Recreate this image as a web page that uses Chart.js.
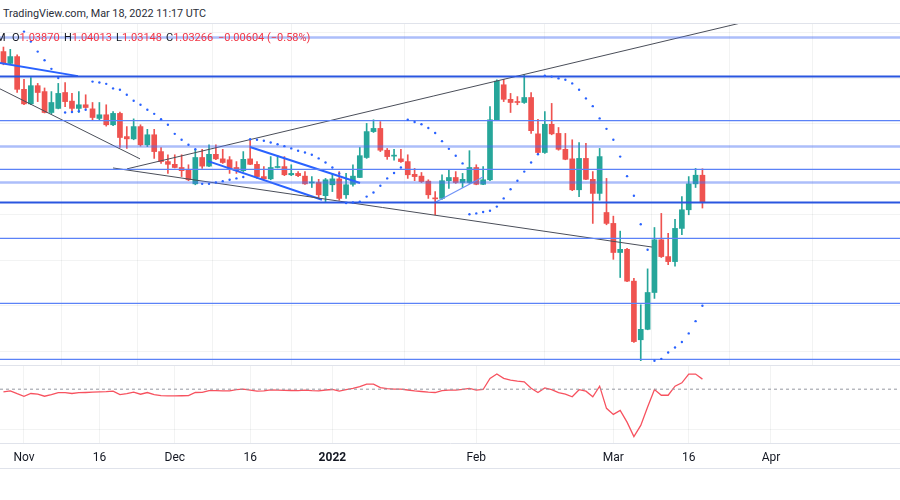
<!DOCTYPE html>
<html>
<head>
<meta charset="utf-8">
<script src="https://cdn.jsdelivr.net/npm/chart.js@4.4.1/dist/chart.umd.min.js"></script>
<style>
  body { margin: 0; background: #fff; width: 900px; height: 500px; overflow: hidden; position: relative; font-family: Roboto, "Noto Sans", sans-serif; }
  #stamp { position: absolute; left: 3px; top: 6px; font-size: 10.8px; line-height: 16px; color: #2a2e39; }
  #topline { position: absolute; left: 0; top: 23px; width: 900px; height: 1px; background: #e0e3eb; }
  #legend span { position: absolute; top: 31px; font-size: 11px; line-height: 14px; color: #131722; white-space: nowrap; z-index: 2; }
  #legend .v { color: #f23645; }
  #main { position: absolute; left: 0; top: 24px; }
  #sep { position: absolute; left: 0; top: 365px; width: 900px; height: 1px; background: #e0e3eb; z-index: 2; }
  #osc { position: absolute; left: 0; top: 365px; }
  #bottomline { position: absolute; left: 0; top: 468px; width: 900px; height: 1px; background: #e0e3eb; }
</style>
</head>
<body>
<div id="stamp">TradingView.com, Mar 18, 2022 11:17 UTC</div>
<div id="topline"></div>
<div id="legend">
  <span style="left:-4px">M</span>
  <span style="left:12px">O<span class="v" style="position:static">1.03870</span></span>
  <span style="left:64px">H<span class="v" style="position:static">1.04013</span></span>
  <span style="left:116px">L<span class="v" style="position:static">1.03148</span></span>
  <span style="left:166px">C<span class="v" style="position:static">1.03266</span></span>
  <span class="v" style="left:218px">−0.00604 (−0.58%)</span>
</div>
<canvas id="main" width="900" height="341"></canvas>
<div id="sep"></div>
<canvas id="osc" width="900" height="107"></canvas>
<div id="bottomline"></div>
<script>
// EURCHF daily, one entry per session starting Oct 27 2021 (index -3, Nov 1 = 0)
var firstDay = -3;

var opens = [1.0659, 1.0633, 1.0648,
  1.0576, 1.0544, 1.0584, 1.0571, 1.0525, 1.0534, 1.0569, 1.0550, 1.0534, 1.0542,
  1.0533, 1.0512, 1.0520, 1.0498, 1.0523, 1.0472, 1.0467, 1.0494, 1.0454, 1.0476,
  1.0439, 1.0417, 1.0411, 1.0404, 1.0399, 1.0368, 1.0426, 1.0407, 1.0433, 1.0423,
  1.0421, 1.0404, 1.0397, 1.0423, 1.0411, 1.0384, 1.0379, 1.0404, 1.0406, 1.0388,
  1.0391, 1.0385, 1.0370, 1.0371, 1.0342, 1.0366, 1.0379, 1.0344, 1.0367, 1.0382,
  1.0426, 1.0483, 1.0490, 1.0442, 1.0429, 1.0423, 1.0417, 1.0389, 1.0385, 1.0374,
  1.0337, 1.0336, 1.0375, 1.0382, 1.0371, 1.0371, 1.0404, 1.0367, 1.0377, 1.0509,
  1.0586, 1.0554, 1.0548, 1.0547, 1.0558, 1.0478, 1.0437, 1.0499, 1.0479, 1.0444,
  1.0423, 1.0355, 1.0424, 1.0378, 1.0347, 1.0305, 1.0281, 1.0217, 1.0224, 1.0154,
  1.0025, 1.0048, 1.0129, 1.0245, 1.0208, 1.0197, 1.0270, 1.0311, 1.0368, 1.03870];

var highs = [1.0669, 1.0664, 1.0652,
  1.0598, 1.0602, 1.0589, 1.0579, 1.0571, 1.0589, 1.0591, 1.0567, 1.0571, 1.0564,
  1.0547, 1.0547, 1.0542, 1.0527, 1.0526, 1.0494, 1.0511, 1.0498, 1.0488, 1.0488,
  1.0448, 1.0432, 1.0432, 1.0432, 1.0410, 1.0444, 1.0444, 1.0454, 1.0454, 1.0444,
  1.0428, 1.0417, 1.0439, 1.0466, 1.0417, 1.0406, 1.0428, 1.0430, 1.0428, 1.0410,
  1.0395, 1.0395, 1.0384, 1.0378, 1.0380, 1.0391, 1.0395, 1.0391, 1.0410, 1.0448,
  1.0501, 1.0509, 1.0505, 1.0446, 1.0444, 1.0444, 1.0432, 1.0402, 1.0393, 1.0377,
  1.0351, 1.0388, 1.0399, 1.0395, 1.0391, 1.0441, 1.0410, 1.0406, 1.0538, 1.0597,
  1.0598, 1.0567, 1.0560, 1.0608, 1.0569, 1.0510, 1.0527, 1.0545, 1.0492, 1.0479,
  1.0465, 1.0459, 1.0457, 1.0395, 1.0446, 1.0380, 1.0297, 1.0264, 1.0226, 1.0160,
  1.0102, 1.0181, 1.0272, 1.0303, 1.0259, 1.0290, 1.0340, 1.0384, 1.0402, 1.04013];

var lows = [1.0630, 1.0630, 1.0569,
  1.0542, 1.0542, 1.0549, 1.0524, 1.0522, 1.0533, 1.0538, 1.0529, 1.0525, 1.0534,
  1.0509, 1.0509, 1.0495, 1.0496, 1.0448, 1.0446, 1.0465, 1.0451, 1.0450, 1.0424,
  1.0413, 1.0391, 1.0403, 1.0384, 1.0375, 1.0366, 1.0402, 1.0406, 1.0421, 1.0413,
  1.0391, 1.0391, 1.0395, 1.0410, 1.0380, 1.0378, 1.0377, 1.0403, 1.0386, 1.0386,
  1.0384, 1.0367, 1.0360, 1.0338, 1.0329, 1.0351, 1.0332, 1.0336, 1.0363, 1.0382,
  1.0424, 1.0481, 1.0439, 1.0422, 1.0420, 1.0415, 1.0380, 1.0375, 1.0371, 1.0336,
  1.0300, 1.0334, 1.0358, 1.0369, 1.0360, 1.0369, 1.0366, 1.0366, 1.0375, 1.0507,
  1.0549, 1.0525, 1.0542, 1.0545, 1.0479, 1.0434, 1.0435, 1.0476, 1.0442, 1.0421,
  1.0353, 1.0340, 1.0377, 1.0281, 1.0332, 1.0278, 1.0202, 1.0162, 1.0153, 1.0019,
  0.9979, 1.0047, 1.0116, 1.0206, 1.0190, 1.0187, 1.0256, 1.0300, 1.0360, 1.03148];

var closes = [1.0633, 1.0648, 1.0576,
  1.0544, 1.0584, 1.0569, 1.0525, 1.0547, 1.0567, 1.0549, 1.0534, 1.0542, 1.0536,
  1.0514, 1.0520, 1.0498, 1.0523, 1.0470, 1.0467, 1.0494, 1.0454, 1.0476, 1.0439,
  1.0417, 1.0411, 1.0404, 1.0397, 1.0377, 1.0426, 1.0407, 1.0433, 1.0423, 1.0415,
  1.0402, 1.0397, 1.0422, 1.0411, 1.0384, 1.0379, 1.0404, 1.0406, 1.0388, 1.0391,
  1.0386, 1.0368, 1.0371, 1.0344, 1.0377, 1.0379, 1.0336, 1.0366, 1.0385, 1.0430,
  1.0483, 1.0490, 1.0442, 1.0428, 1.0430, 1.0417, 1.0388, 1.0384, 1.0373, 1.0344,
  1.0335, 1.0375, 1.0382, 1.0371, 1.0378, 1.0404, 1.0367, 1.0377, 1.0509, 1.0594,
  1.0554, 1.0547, 1.0547, 1.0558, 1.0485, 1.0437, 1.0499, 1.0478, 1.0444, 1.0422,
  1.0355, 1.0424, 1.0378, 1.0347, 1.0428, 1.0281, 1.0217, 1.0224, 1.0154, 1.0021,
  1.0048, 1.0129, 1.0245, 1.0208, 1.0197, 1.0270, 1.0311, 1.0368, 1.0387, 1.03266];

// parabolic SAR, same sessions
var sar = [null, null, null,
  1.0703, 1.0681, 1.0659, 1.0640, 1.0621, 1.0601, 1.0525, 1.0526, 1.0528, 1.0531,
  1.0593, 1.0591, 1.0588, 1.0578, 1.0575, 1.0564, 1.0551, 1.0542, 1.0531, 1.0522,
  1.0510, 1.0498, 1.0478, 1.0465, 1.0454, 1.0444, 1.0368, 1.0368, 1.0371, 1.0374,
  1.0377, 1.0380, 1.0383, 1.0466, 1.0465, 1.0463, 1.0459, 1.0455, 1.0451, 1.0446,
  1.0441, 1.0437, 1.0432, 1.0424, 1.0415, 1.0404, 1.0391, 1.0326, 1.0327, 1.0329,
  1.0340, 1.0349, 1.0364, 1.0380, 1.0392, 1.0404, 1.0509, 1.0504, 1.0499, 1.0491,
  1.0480, 1.0462, 1.0445, 1.0430, 1.0413, 1.0301, 1.0303, 1.0306, 1.0309, 1.0318,
  1.0336, 1.0356, 1.0375, 1.0395, 1.0415, 1.0433, 1.0606, 1.0604, 1.0600, 1.0597,
  1.0589, 1.0575, 1.0556, 1.0539, 1.0512, 1.0489, 1.0465, 1.0428, 1.0385, 1.0342,
  1.0279, 1.0223, 0.9979, 0.9983, 0.9997, 1.0008, 1.0020, 1.0039, 1.0066, 1.0100];

// lower pane oscillator, same sessions
var osc = [-0.27, -0.17, -0.45,
  -0.70, -0.43, -0.50, -0.70, -0.55, -0.35, -0.35, -0.43, -0.35, -0.33,
  -0.30, -0.27, -0.25, -0.20, -0.53, -0.45, -0.30, -0.50, -0.33, -0.55,
  -0.63, -0.67, -0.67, -0.65, -0.63, -0.33, -0.32, -0.15, -0.15, -0.16,
  -0.17, -0.05, 0.00, -0.10, -0.20, -0.16, -0.07, -0.10, -0.12, -0.13,
  -0.15, -0.10, -0.15, -0.17, -0.08, -0.03, -0.20, -0.05, 0.07, 0.25,
  0.50, 0.50, 0.15, 0.05, 0.00, 0.00, -0.08, -0.17, -0.23, -0.30,
  -0.33, -0.15, -0.10, -0.10, -0.02, 0.07, -0.10, -0.03, 1.07, 1.50,
  1.07, 0.90, 0.80, 0.73, 0.10, -0.33, 0.13, -0.05, -0.35, -0.48,
  -0.75, -0.05, -0.20, -0.75, 0.30, -1.90, -2.50, -2.10, -3.27, -4.70,
  -3.60, -1.77, -0.03, -0.60, -0.60, 0.30, 0.63, 1.50, 1.50, 1.00];

var tickIdx = [0, 11, 22, 33, 45, 66, 86, 97, 109];
var tickText = ["Nov", "16", "Dec", "16", "2022", "Feb", "Mar", "16", "Apr"];

// horizontal levels and drawn trend lines (session index, price)
var levels = [1.0690, 1.0604, 1.0507, 1.0450, 1.0400, 1.0371, 1.0327, 1.0248, 1.0105, 0.9982];
var blackLines = [[-3.50, 1.0577, 16.93, 1.0423], [15.03, 1.0401, 107.40, 1.0732], [12.99, 1.0403, 91.64, 1.0229]];
var blueLines = [[-3.50, 1.0634, 7.88, 1.0605], [32.98, 1.0449, 49.03, 1.0370], [26.85, 1.0418, 43.48, 1.0333], [60.12, 1.0328, 66.98, 1.0383]];
var priceGrid = [1.00, 1.01, 1.02, 1.03, 1.04, 1.05, 1.06, 1.07];

// ---- drawing ----
var X_MIN = -3.502, X_MAX = 127.83;
var UP = "#26a69a", DOWN = "#ef5350", GRID = "rgba(42,46,57,0.06)";
var levelLook = ["soft", "strong", "mid", "soft", "mid", "soft", "strong", "mid", "mid", "mid"];
var looks = {
  soft: { color: "rgba(70,110,245,0.45)", width: 2.5 },
  strong: { color: "#2a56e0", width: 2 },
  mid: { color: "#5b82f7", width: 1.3 }
};

var wicks = [], bodies = [], colors = [], sarPts = [], oscPts = [];
for (var k = 0; k < opens.length; k++) {
  var x = firstDay + k;
  wicks.push({ x: x, y: [lows[k], highs[k]] });
  bodies.push({ x: x, y: [Math.min(opens[k], closes[k]), Math.max(opens[k], closes[k])] });
  colors.push(closes[k] >= opens[k] ? UP : DOWN);
  if (sar[k] !== null) sarPts.push({ x: x, y: sar[k] });
  oscPts.push({ x: x, y: osc[k] });
}

var ds = [];
levels.forEach(function (lv, n) {
  var lk = looks[levelLook[n]];
  ds.push({ type: "line", data: [{ x: X_MIN, y: lv }, { x: X_MAX, y: lv }], borderColor: lk.color, borderWidth: lk.width, pointRadius: 0, order: 1 });
});
blackLines.forEach(function (s) {
  ds.push({ type: "line", data: [{ x: s[0], y: s[1] }, { x: s[2], y: s[3] }], borderColor: "#4a4e59", borderWidth: 1, pointRadius: 0, order: 1 });
});
blueLines.forEach(function (s, n) {
  ds.push({ type: "line", data: [{ x: s[0], y: s[1] }, { x: s[2], y: s[3] }], borderColor: n === 3 ? "#6f93f7" : "#2962ff", borderWidth: n === 3 ? 1.2 : 2, pointRadius: 0, order: 1 });
});
ds.push({ type: "bar", data: wicks, backgroundColor: colors, barThickness: 1, grouped: false, order: 3 });
ds.push({ type: "bar", data: bodies, backgroundColor: colors, barThickness: 5, minBarLength: 1, grouped: false, order: 2 });
ds.push({ type: "line", data: sarPts, showLine: false, pointRadius: 1.2, pointBackgroundColor: "#2962ff", pointBorderWidth: 0, order: 0 });

function idxTicks(s) { s.ticks = tickIdx.map(function (v) { return { value: v }; }); }

new Chart(document.getElementById("main").getContext("2d"), {
  type: "bar",
  data: { datasets: ds },
  options: {
    responsive: false, animation: false, devicePixelRatio: 1,
    layout: { padding: 0, autoPadding: false },
    plugins: { legend: { display: false }, tooltip: { enabled: false } },
    scales: {
      x: { type: "linear", min: X_MIN, max: X_MAX, offset: false, afterBuildTicks: idxTicks,
           ticks: { display: false }, grid: { color: GRID, drawTicks: false }, border: { display: false } },
      y: { type: "linear", position: "right", min: 0.99695, max: 1.07197,
           afterBuildTicks: function (s) { s.ticks = priceGrid.map(function (v) { return { value: v }; }); },
           ticks: { display: false }, grid: { color: GRID, drawTicks: false }, border: { display: false } }
    }
  }
});

new Chart(document.getElementById("osc").getContext("2d"), {
  type: "line",
  data: {
    datasets: [
      { data: [{ x: X_MIN, y: 0 }, { x: X_MAX, y: 0 }], borderColor: "#9598a1", borderWidth: 1, borderDash: [3, 3], pointRadius: 0 },
      { data: oscPts, borderColor: "#f7525f", borderWidth: 1.3, pointRadius: 0, tension: 0 }
    ]
  },
  options: {
    responsive: false, animation: false, devicePixelRatio: 1,
    layout: { padding: 0, autoPadding: false },
    plugins: { legend: { display: false }, tooltip: { enabled: false } },
    scales: {
      x: { type: "linear", min: X_MIN, max: X_MAX, offset: false, afterBuildTicks: idxTicks,
           ticks: { autoSkip: false, maxRotation: 0, padding: 7, color: "#131722",
                    font: function (c) { return { family: "Roboto", size: 12, weight: (c.tick && c.tick.value === 45) ? "bold" : "normal" }; },
                    callback: function (v) { return tickText[tickIdx.indexOf(v)]; } },
           grid: { color: GRID, drawTicks: false }, border: { display: true, color: "#e0e3eb" } },
      y: { min: -5.4, max: 2.4, afterBuildTicks: function (s) { s.ticks = [{ value: -4 }]; },
           ticks: { display: false }, grid: { color: GRID, drawTicks: false }, border: { display: false } }
    }
  }
});
</script>
</body>
</html>
